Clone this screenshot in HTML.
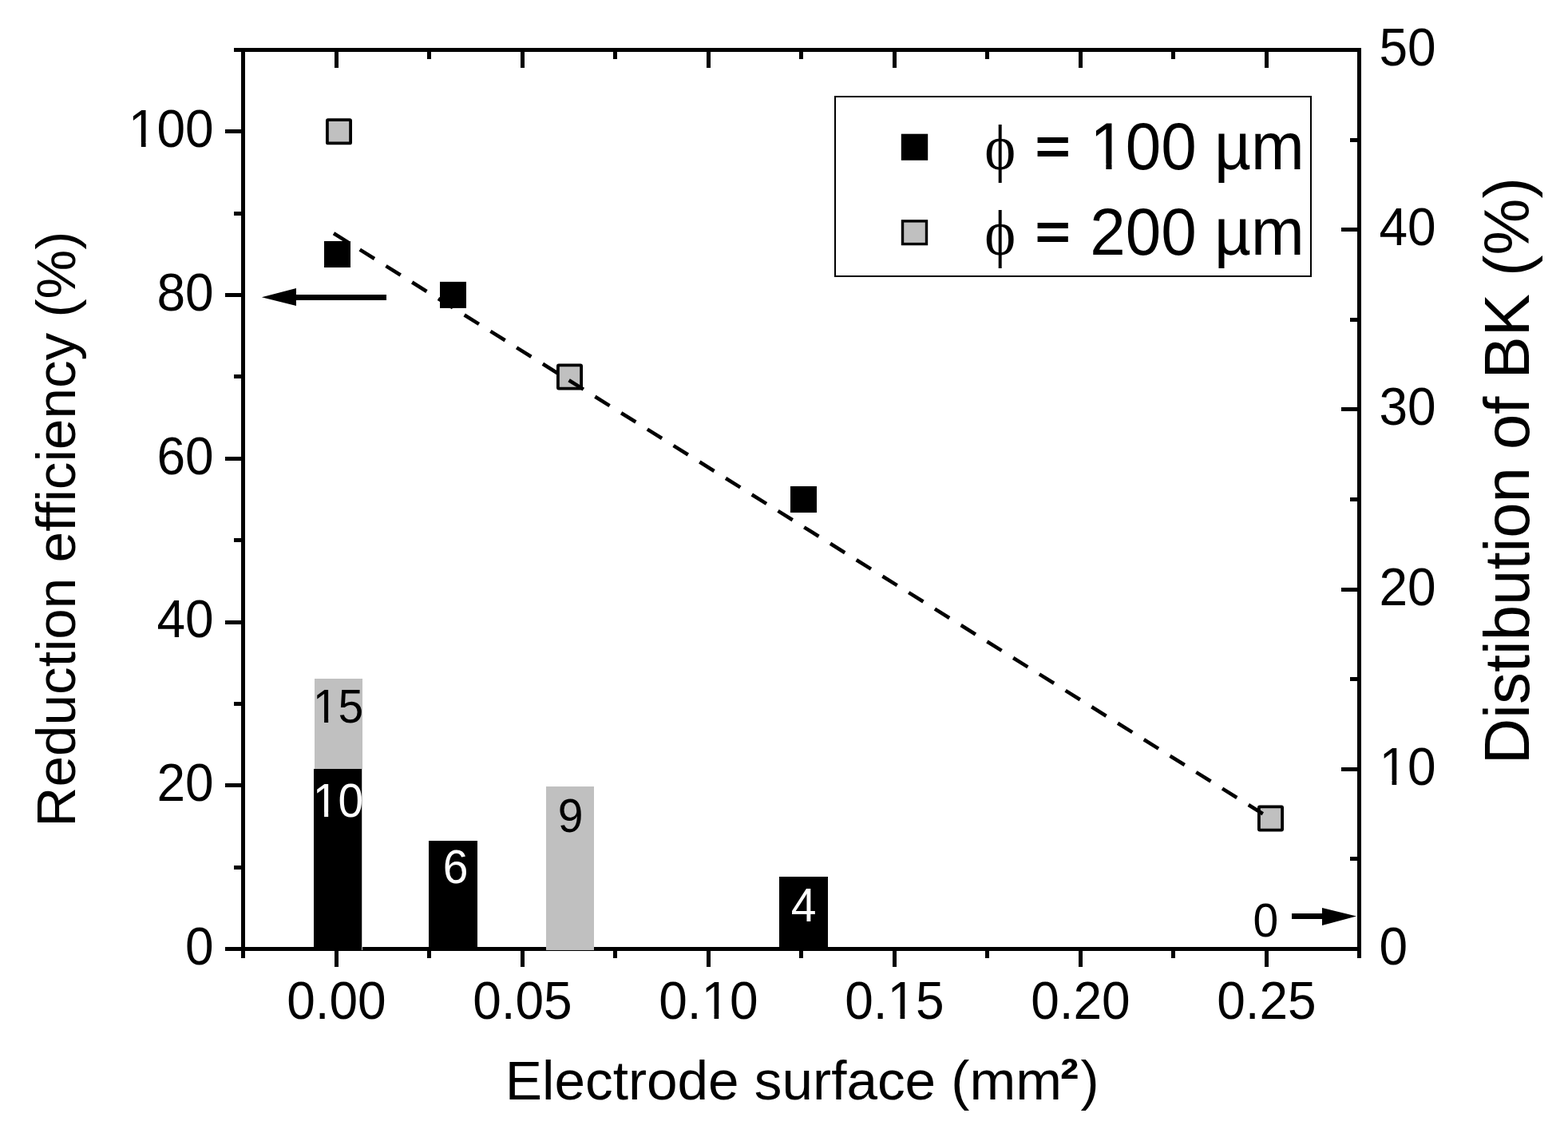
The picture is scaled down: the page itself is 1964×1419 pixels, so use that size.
<!DOCTYPE html>
<html><head><meta charset="utf-8"><title>Reduction efficiency vs electrode surface</title>
<style>html,body{margin:0;padding:0;background:#fff;}svg{display:block;}</style></head>
<body><svg width="1964" height="1419" viewBox="0 0 1964 1419">
<rect x="0" y="0" width="1964" height="1419" fill="#fff"/>
<rect x="302.00" y="60.00" width="5.00" height="1140.00" fill="#000"/>
<rect x="1700.00" y="60.00" width="5.00" height="1140.00" fill="#000"/>
<rect x="293.00" y="60.00" width="1412.00" height="5.00" fill="#000"/>
<rect x="282.00" y="1186.00" width="1423.00" height="5.00" fill="#000"/>
<rect x="282.00" y="1186.00" width="20.00" height="5.00" fill="#000"/>
<rect x="293.00" y="1084.00" width="9.00" height="5.00" fill="#000"/>
<rect x="282.00" y="981.00" width="20.00" height="5.00" fill="#000"/>
<rect x="293.00" y="879.00" width="9.00" height="5.00" fill="#000"/>
<rect x="282.00" y="777.00" width="20.00" height="5.00" fill="#000"/>
<rect x="293.00" y="674.00" width="9.00" height="5.00" fill="#000"/>
<rect x="282.00" y="572.00" width="20.00" height="5.00" fill="#000"/>
<rect x="293.00" y="469.00" width="9.00" height="5.00" fill="#000"/>
<rect x="282.00" y="367.00" width="20.00" height="5.00" fill="#000"/>
<rect x="293.00" y="265.00" width="9.00" height="5.00" fill="#000"/>
<rect x="282.00" y="162.00" width="20.00" height="5.00" fill="#000"/>
<rect x="293.00" y="60.00" width="9.00" height="5.00" fill="#000"/>
<rect x="1680.00" y="1186.00" width="20.00" height="5.00" fill="#000"/>
<rect x="1691.00" y="1073.00" width="9.00" height="5.00" fill="#000"/>
<rect x="1680.00" y="961.00" width="20.00" height="5.00" fill="#000"/>
<rect x="1691.00" y="848.00" width="9.00" height="5.00" fill="#000"/>
<rect x="1680.00" y="736.00" width="20.00" height="5.00" fill="#000"/>
<rect x="1691.00" y="623.00" width="9.00" height="5.00" fill="#000"/>
<rect x="1680.00" y="510.00" width="20.00" height="5.00" fill="#000"/>
<rect x="1691.00" y="398.00" width="9.00" height="5.00" fill="#000"/>
<rect x="1680.00" y="285.00" width="20.00" height="5.00" fill="#000"/>
<rect x="1691.00" y="173.00" width="9.00" height="5.00" fill="#000"/>
<rect x="1680.00" y="60.00" width="20.00" height="5.00" fill="#000"/>
<rect x="302.00" y="1191.00" width="5.00" height="9.00" fill="#000"/>
<rect x="302.00" y="65.00" width="5.00" height="9.00" fill="#000"/>
<rect x="419.00" y="1191.00" width="5.00" height="20.00" fill="#000"/>
<rect x="419.00" y="65.00" width="5.00" height="20.00" fill="#000"/>
<rect x="535.00" y="1191.00" width="5.00" height="9.00" fill="#000"/>
<rect x="535.00" y="65.00" width="5.00" height="9.00" fill="#000"/>
<rect x="652.00" y="1191.00" width="5.00" height="20.00" fill="#000"/>
<rect x="652.00" y="65.00" width="5.00" height="20.00" fill="#000"/>
<rect x="768.00" y="1191.00" width="5.00" height="9.00" fill="#000"/>
<rect x="768.00" y="65.00" width="5.00" height="9.00" fill="#000"/>
<rect x="885.00" y="1191.00" width="5.00" height="20.00" fill="#000"/>
<rect x="885.00" y="65.00" width="5.00" height="20.00" fill="#000"/>
<rect x="1001.00" y="1191.00" width="5.00" height="9.00" fill="#000"/>
<rect x="1001.00" y="65.00" width="5.00" height="9.00" fill="#000"/>
<rect x="1118.00" y="1191.00" width="5.00" height="20.00" fill="#000"/>
<rect x="1118.00" y="65.00" width="5.00" height="20.00" fill="#000"/>
<rect x="1234.00" y="1191.00" width="5.00" height="9.00" fill="#000"/>
<rect x="1234.00" y="65.00" width="5.00" height="9.00" fill="#000"/>
<rect x="1351.00" y="1191.00" width="5.00" height="20.00" fill="#000"/>
<rect x="1351.00" y="65.00" width="5.00" height="20.00" fill="#000"/>
<rect x="1467.00" y="1191.00" width="5.00" height="9.00" fill="#000"/>
<rect x="1467.00" y="65.00" width="5.00" height="9.00" fill="#000"/>
<rect x="1584.00" y="1191.00" width="5.00" height="20.00" fill="#000"/>
<rect x="1584.00" y="65.00" width="5.00" height="20.00" fill="#000"/>
<rect x="1700.00" y="1191.00" width="5.00" height="9.00" fill="#000"/>
<rect x="1700.00" y="65.00" width="5.00" height="9.00" fill="#000"/>
<rect x="394.00" y="850.00" width="60.00" height="340.00" fill="#c0c0c0"/>
<rect x="393.00" y="963.00" width="60.00" height="227.00" fill="#000"/>
<rect x="537.00" y="1053.00" width="61.00" height="137.00" fill="#000"/>
<rect x="684.00" y="985.00" width="60.00" height="205.00" fill="#c0c0c0"/>
<rect x="976.00" y="1098.00" width="61.00" height="92.00" fill="#000"/>
<g transform="translate(267.60,1207.80) scale(1.0,1.04)"><text font-family="'Liberation Sans', Arial, Helvetica, sans-serif" font-size="64" text-anchor="end" fill="#000">0</text></g>
<g transform="translate(267.60,1003.08) scale(1.0,1.04)"><text font-family="'Liberation Sans', Arial, Helvetica, sans-serif" font-size="64" text-anchor="end" fill="#000">20</text></g>
<g transform="translate(267.60,798.36) scale(1.0,1.04)"><text font-family="'Liberation Sans', Arial, Helvetica, sans-serif" font-size="64" text-anchor="end" fill="#000">40</text></g>
<g transform="translate(267.60,593.64) scale(1.0,1.04)"><text font-family="'Liberation Sans', Arial, Helvetica, sans-serif" font-size="64" text-anchor="end" fill="#000">60</text></g>
<g transform="translate(267.60,388.92) scale(1.0,1.04)"><text font-family="'Liberation Sans', Arial, Helvetica, sans-serif" font-size="64" text-anchor="end" fill="#000">80</text></g>
<g transform="translate(267.60,184.20) scale(1.0,1.04)"><text font-family="'Liberation Sans', Arial, Helvetica, sans-serif" font-size="64" text-anchor="end" fill="#000">100</text><rect x="-102.72" y="-5.63" width="12.00" height="6.43" fill="#fff"/><rect x="-85.02" y="-5.63" width="11.49" height="6.43" fill="#fff"/></g>
<g transform="translate(1727.50,1208.00) scale(1.0,1.04)"><text font-family="'Liberation Sans', Arial, Helvetica, sans-serif" font-size="64" text-anchor="start" fill="#000">0</text></g>
<g transform="translate(1727.50,982.80) scale(1.0,1.04)"><text font-family="'Liberation Sans', Arial, Helvetica, sans-serif" font-size="64" text-anchor="start" fill="#000">10</text><rect x="4.06" y="-5.63" width="12.00" height="6.43" fill="#fff"/><rect x="21.76" y="-5.63" width="11.49" height="6.43" fill="#fff"/></g>
<g transform="translate(1727.50,757.60) scale(1.0,1.04)"><text font-family="'Liberation Sans', Arial, Helvetica, sans-serif" font-size="64" text-anchor="start" fill="#000">20</text></g>
<g transform="translate(1727.50,532.40) scale(1.0,1.04)"><text font-family="'Liberation Sans', Arial, Helvetica, sans-serif" font-size="64" text-anchor="start" fill="#000">30</text></g>
<g transform="translate(1727.50,307.20) scale(1.0,1.04)"><text font-family="'Liberation Sans', Arial, Helvetica, sans-serif" font-size="64" text-anchor="start" fill="#000">40</text></g>
<g transform="translate(1727.50,82.00) scale(1.0,1.04)"><text font-family="'Liberation Sans', Arial, Helvetica, sans-serif" font-size="64" text-anchor="start" fill="#000">50</text></g>
<g transform="translate(421.40,1276.30) scale(1.0,1.04)"><text font-family="'Liberation Sans', Arial, Helvetica, sans-serif" font-size="64" text-anchor="middle" fill="#000">0.00</text></g>
<g transform="translate(654.40,1276.30) scale(1.0,1.04)"><text font-family="'Liberation Sans', Arial, Helvetica, sans-serif" font-size="64" text-anchor="middle" fill="#000">0.05</text></g>
<g transform="translate(887.40,1276.30) scale(1.0,1.04)"><text font-family="'Liberation Sans', Arial, Helvetica, sans-serif" font-size="64" text-anchor="middle" fill="#000">0.10</text><rect x="-4.84" y="-5.63" width="12.00" height="6.43" fill="#fff"/><rect x="12.85" y="-5.63" width="11.49" height="6.43" fill="#fff"/></g>
<g transform="translate(1120.40,1276.30) scale(1.0,1.04)"><text font-family="'Liberation Sans', Arial, Helvetica, sans-serif" font-size="64" text-anchor="middle" fill="#000">0.15</text><rect x="-4.84" y="-5.63" width="12.00" height="6.43" fill="#fff"/><rect x="12.85" y="-5.63" width="11.49" height="6.43" fill="#fff"/></g>
<g transform="translate(1353.40,1276.30) scale(1.0,1.04)"><text font-family="'Liberation Sans', Arial, Helvetica, sans-serif" font-size="64" text-anchor="middle" fill="#000">0.20</text></g>
<g transform="translate(1586.40,1276.30) scale(1.0,1.04)"><text font-family="'Liberation Sans', Arial, Helvetica, sans-serif" font-size="64" text-anchor="middle" fill="#000">0.25</text></g>
<g transform="translate(1004.70,1377.00)"><text font-family="'Liberation Sans', Arial, Helvetica, sans-serif" font-size="69.3" text-anchor="middle" fill="#000">Electrode surface (mm<tspan font-weight="bold" dx="-2" dy="-2">²</tspan><tspan dx="2.5" dy="2">)</tspan></text></g>
<g transform="translate(94.20,662.70) rotate(-90)"><text font-family="'Liberation Sans', Arial, Helvetica, sans-serif" font-size="69.3" text-anchor="middle" fill="#000">Reduction efficiency (%)</text></g>
<g transform="translate(1915.00,589.60) rotate(-90)"><text font-family="'Liberation Sans', Arial, Helvetica, sans-serif" font-size="79.7" text-anchor="middle" fill="#000">Distibution of BK (%)</text></g>
<rect x="409.90" y="150.20" width="29.2" height="29.2" fill="#c0c0c0" stroke="#000" stroke-width="3.8" rx="1"/>
<rect x="406.00" y="302.00" width="33.00" height="33.00" fill="#000"/>
<rect x="551.00" y="352.90" width="33.00" height="33.00" fill="#000"/>
<rect x="698.90" y="457.40" width="29.2" height="29.2" fill="#c0c0c0" stroke="#000" stroke-width="3.8" rx="1"/>
<rect x="990.00" y="609.00" width="33.00" height="33.00" fill="#000"/>
<rect x="1576.90" y="1010.40" width="29.2" height="29.2" fill="#c0c0c0" stroke="#000" stroke-width="3.8" rx="1"/>
<line x1="418" y1="292.2" x2="1581.8" y2="1019.3" stroke="#000" stroke-width="4.6" stroke-dasharray="21.5 17.1"/>
<polygon points="327.8,372.3 371,361 371,383" fill="#000"/>
<rect x="370.00" y="369.00" width="114.00" height="7.00" fill="#000"/>
<polygon points="1699,1147.5 1656,1137 1656,1159" fill="#000"/>
<rect x="1618.00" y="1144.00" width="39.00" height="7.00" fill="#000"/>
<g transform="translate(423.50,905.00) scale(1.0,1.04)"><text font-family="'Liberation Sans', Arial, Helvetica, sans-serif" font-size="57" text-anchor="middle" fill="#000">15</text><rect x="-28.17" y="-5.10" width="10.78" height="5.90" fill="#c0c0c0"/><rect x="-12.32" y="-5.10" width="10.32" height="5.90" fill="#c0c0c0"/></g>
<g transform="translate(423.50,1022.70) scale(1.0,1.04)"><text font-family="'Liberation Sans', Arial, Helvetica, sans-serif" font-size="57" text-anchor="middle" fill="#fff">10</text><rect x="-28.17" y="-5.10" width="10.78" height="5.90" fill="#000"/><rect x="-12.32" y="-5.10" width="10.32" height="5.90" fill="#000"/></g>
<g transform="translate(570.50,1105.50) scale(1.0,1.04)"><text font-family="'Liberation Sans', Arial, Helvetica, sans-serif" font-size="57" text-anchor="middle" fill="#fff">6</text></g>
<g transform="translate(714.50,1041.70) scale(1.0,1.04)"><text font-family="'Liberation Sans', Arial, Helvetica, sans-serif" font-size="57" text-anchor="middle" fill="#000">9</text></g>
<g transform="translate(1006.50,1154.00) scale(1.0,1.04)"><text font-family="'Liberation Sans', Arial, Helvetica, sans-serif" font-size="57" text-anchor="middle" fill="#fff">4</text></g>
<g transform="translate(1585.30,1172.60) scale(1.0,1.04)"><text font-family="'Liberation Sans', Arial, Helvetica, sans-serif" font-size="57" text-anchor="middle" fill="#000">0</text></g>
<rect x="1046" y="121" width="596" height="225" fill="none" stroke="#000" stroke-width="2"/>
<rect x="1128.80" y="167.70" width="33.40" height="33.10" fill="#000"/>
<rect x="1130.5" y="276.9" width="30" height="28.7" fill="#c0c0c0" stroke="#000" stroke-width="3.4"/>
<g transform="translate(1252.80,212.00) scale(0.92,1.0)"><text font-family="'Liberation Serif', 'Times New Roman', serif" font-size="80.5" text-anchor="middle" fill="#000">&#x3D5;</text></g>
<text transform="translate(1297.1,207.3) scale(0.93,0.855)" font-family="'Liberation Sans', Arial, Helvetica, sans-serif" font-size="80" fill="#000" stroke="#000" stroke-width="2.27">=</text>
<g transform="translate(1365.30,212.00) scale(1.0,1.04)"><text font-family="'Liberation Sans', Arial, Helvetica, sans-serif" font-size="80" text-anchor="start" fill="#000">100 µm</text><rect x="5.28" y="-6.84" width="14.80" height="7.64" fill="#fff"/><rect x="27.20" y="-6.84" width="14.16" height="7.64" fill="#fff"/></g>
<g transform="translate(1252.80,318.50) scale(0.92,1.0)"><text font-family="'Liberation Serif', 'Times New Roman', serif" font-size="80.5" text-anchor="middle" fill="#000">&#x3D5;</text></g>
<text transform="translate(1297.1,313.8) scale(0.93,0.855)" font-family="'Liberation Sans', Arial, Helvetica, sans-serif" font-size="80" fill="#000" stroke="#000" stroke-width="2.27">=</text>
<g transform="translate(1365.30,318.50) scale(1.0,1.04)"><text font-family="'Liberation Sans', Arial, Helvetica, sans-serif" font-size="80" text-anchor="start" fill="#000">200 µm</text></g>
</svg></body></html>
